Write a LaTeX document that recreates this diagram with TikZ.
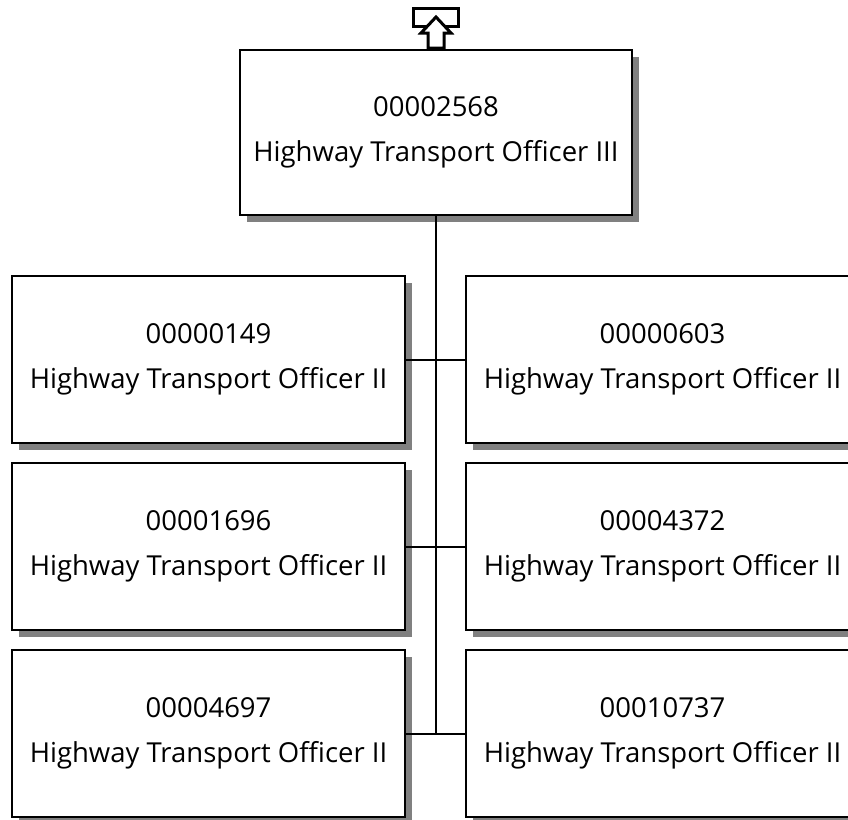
\documentclass[tikz,border=0pt]{standalone}
\usepackage{fontspec}
\setmainfont{Open Sans}
\usetikzlibrary{shadows}
\definecolor{shadowgray}{RGB}{128,128,128}
\begin{document}
\begin{tikzpicture}[x=1pt,y=-1pt,
  box/.style={draw=black, line width=2pt, fill=white, rectangle, inner sep=0pt,
    minimum width=393pt, minimum height=167pt, align=center,
    font=\fontsize{27.5}{45}\selectfont,
    general shadow={fill=shadowgray, shadow xshift=7pt, shadow yshift=-7pt}},
  conn/.style={draw=black, line width=2pt},
  icon/.style={draw=black, line width=3pt, fill=white}]
\useasboundingbox (0,0) rectangle (848,819);
\clip (0,0) rectangle (848,819);
% icon
\draw[icon] (413,8) rectangle (458,26);
\draw[icon, line join=miter] (436,17) -- (451,33) -- (444,33) -- (444,48) -- (428,48) -- (428,33) -- (421,33) -- cycle;
% boxes
\node[box, minimum width=392pt, minimum height=165pt] (top) at (436,132.5) {00002568\\Highway Transport Officer III};
\node[box] (l1) at (208.5,359.5) {00000149\\Highway Transport Officer II};
\node[box] (r1) at (662.5,359.5) {00000603\\Highway Transport Officer II};
\node[box] (l2) at (208.5,546.5) {00001696\\Highway Transport Officer II};
\node[box] (r2) at (662.5,546.5) {00004372\\Highway Transport Officer II};
\node[box] (l3) at (208.5,733.5) {00004697\\Highway Transport Officer II};
\node[box] (r3) at (662.5,733.5) {00010737\\Highway Transport Officer II};
% connectors
\draw[conn] (top.south) -- (top.south |- l3.east);
\draw[conn] (l1.east) -- (r1.west);
\draw[conn] (l2.east) -- (r2.west);
\draw[conn] (l3.east) -- (r3.west);
\end{tikzpicture}
\end{document}
